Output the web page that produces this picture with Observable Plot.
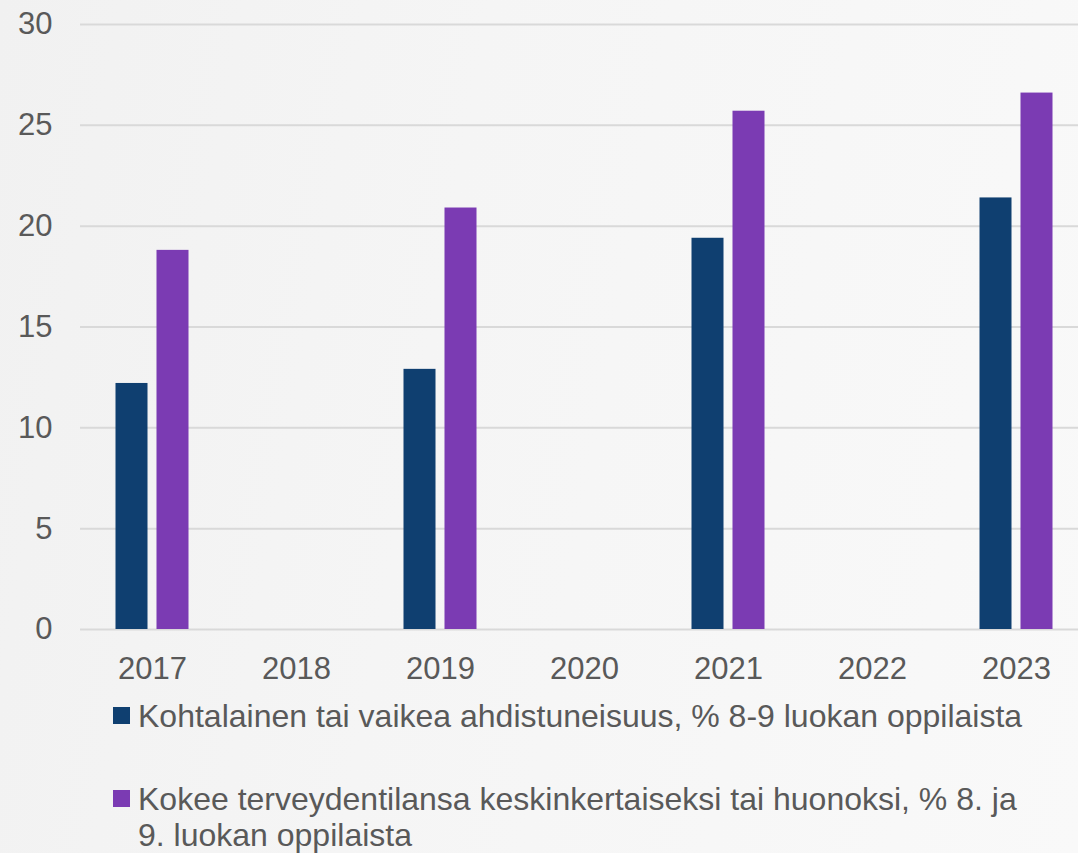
<!DOCTYPE html>
<html>
<head>
<meta charset="utf-8">
<script src="https://cdn.jsdelivr.net/npm/d3@7"></script>
<script src="https://cdn.jsdelivr.net/npm/@observablehq/plot@0.6"></script>
<style>
  html, body { margin: 0; padding: 0; }
  body {
    width: 1078px; height: 853px; overflow: hidden;
    background: linear-gradient(100deg, #f1f1f1 0%, #f5f5f5 40%, #f9f9f9 100%);
    font-family: "Liberation Sans", Arial, sans-serif;
    color: #595959;
  }
  #chart svg { display: block; background: transparent; }
  .legend { padding-left: 113px; margin-top: 3px; }
  .item { display: flex; align-items: flex-start; font-size: 32px; line-height: 36px; }
  .item + .item { margin-top: 47px; }
  .sw { width: 17px; height: 17px; margin-top: 9px; margin-right: 8px; flex: none; }
  .txt { max-width: 895px; }
</style>
</head>
<body>
<div id="chart"></div>
<div class="legend" id="legend"></div>
<script>
const years = ["2017", "2018", "2019", "2020", "2021", "2022", "2023"];
const seriesNames = [
  "Kohtalainen tai vaikea ahdistuneisuus, % 8-9 luokan oppilaista",
  "Kokee terveydentilansa keskinkertaiseksi tai huonoksi, % 8. ja 9. luokan oppilaista"
];
const anxiety = [12.2, null, 12.9, null, 19.4, null, 21.4];
const health  = [18.8, null, 20.9, null, 25.7, null, 26.6];
const yTicks = [0, 5, 10, 15, 20, 25, 30];
const colors = ["#0f3f70", "#7b3bb3"];

const rowsA = years.map((y, i) => ({year: y, value: anxiety[i], series: seriesNames[0]})).filter(d => d.value != null);
const rowsB = years.map((y, i) => ({year: y, value: health[i], series: seriesNames[1]})).filter(d => d.value != null);

const plot = Plot.plot({
  width: 1078,
  height: 695,
  marginLeft: 80,
  marginRight: 0,
  marginTop: 24,
  marginBottom: 66,
  style: {fontFamily: "'Liberation Sans', Arial, sans-serif", fontSize: "31px", color: "#595959", background: "transparent"},
  x: {domain: years, range: [79.5, 1087.5], padding: 0, label: null},
  y: {domain: [0, 30], label: null},
  color: {domain: seriesNames, range: colors},
  marks: [
    Plot.ruleY(yTicks, {stroke: "#d9d9d9", strokeWidth: 2}),
    Plot.barY(rowsA, {x: "year", y: "value", fill: "series", insetLeft: 35.5, insetRight: 76.5}),
    Plot.barY(rowsB, {x: "year", y: "value", fill: "series", insetLeft: 76.5, insetRight: 35.5}),
    Plot.axisX({tickSize: 0, tickPadding: 27, fill: "#595959", label: null}),
    Plot.axisY({ticks: yTicks, tickSize: 0, tickPadding: 28, fill: "#595959", label: null})
  ]
});
document.getElementById("chart").appendChild(plot);

const legend = document.getElementById("legend");
seriesNames.forEach((name, i) => {
  const item = document.createElement("div");
  item.className = "item";
  const sw = document.createElement("span");
  sw.className = "sw";
  sw.style.background = colors[i];
  const t = document.createElement("span");
  t.className = "txt";
  t.textContent = name;
  item.appendChild(sw);
  item.appendChild(t);
  legend.appendChild(item);
});
</script>
</body>
</html>
